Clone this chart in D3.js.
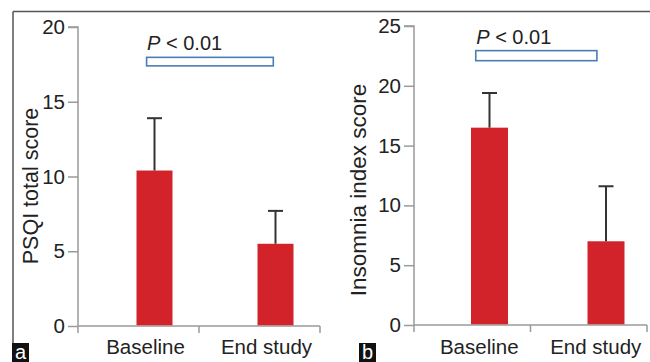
<!DOCTYPE html>
<html>
<head>
<meta charset="utf-8">
<script src="https://cdn.jsdelivr.net/npm/d3@7"></script>
<style>
  html, body { margin: 0; padding: 0; background: #fff; }
  svg { display: block; font-family: "Liberation Sans", Arial, sans-serif; }
</style>
</head>
<body>
<svg id="chart" width="650" height="362"></svg>
<script>
const categories = ['Baseline', 'End study'];

// panel a: PSQI total score
const psqiMeans = [10.4, 5.5];
const psqiUpper = [13.9, 7.7];
const psqiTicks = [0, 5, 10, 15, 20];

// panel b: insomnia index score
const isiMeans = [16.5, 7.0];
const isiUpper = [19.4, 11.6];
const isiTicks = [0, 5, 10, 15, 20, 25];

const pLabel = 'P';
const pRest = ' < 0.01';

const barColor = '#d2232a';
const axisColor = '#9a9a9a';
const errColor = '#333';
const sigColor = '#4a7db4';

const svg = d3.select('#chart');

// outer frame lines
svg.append('line')
  .attr('x1', 13).attr('x2', 650).attr('y1', 11.5).attr('y2', 11.5)
  .attr('stroke', '#555').attr('stroke-width', 1.5);
svg.append('line')
  .attr('x1', 13).attr('x2', 13).attr('y1', 11.5).attr('y2', 343)
  .attr('stroke', '#555').attr('stroke-width', 1.5);

function drawPanel(opt) {
  const g = svg.append('g');

  const y = d3.scaleLinear()
    .domain([0, opt.ticks[opt.ticks.length - 1]])
    .range([opt.y0, opt.yTop]);

  const x = d3.scaleBand()
    .domain(categories)
    .range([opt.xLeft, opt.xRight]);

  const bw = x.bandwidth();

  // y axis
  const yAxis = d3.axisLeft(y).tickValues(opt.ticks).tickSize(10).tickPadding(3);
  const ya = g.append('g')
    .attr('transform', `translate(${opt.xLeft},0)`)
    .call(yAxis);
  ya.select('.domain').attr('stroke', axisColor).attr('stroke-width', 1.5)
    .attr('d', `M-10,${opt.yTop}H0V${opt.y0}`);
  ya.selectAll('.tick line').attr('stroke', axisColor).attr('stroke-width', 1.5);
  ya.selectAll('.tick text')
    .attr('fill', '#222')
    .style('font-size', '20.5px')
    .style('font-family', '"Liberation Sans", Arial, sans-serif');

  // x axis: ticks at band boundaries
  const xa = g.append('g');
  xa.append('line')
    .attr('x1', opt.xLeft).attr('x2', opt.xRight)
    .attr('y1', opt.y0).attr('y2', opt.y0)
    .attr('stroke', axisColor).attr('stroke-width', 1.5);
  const bounds = categories.map(c => x(c)).concat([opt.xRight]);
  xa.selectAll('line.xt')
    .data(bounds)
    .enter()
    .append('line')
    .attr('class', 'xt')
    .attr('x1', d => d).attr('x2', d => d)
    .attr('y1', opt.y0).attr('y2', opt.y0 + 7)
    .attr('stroke', axisColor).attr('stroke-width', 1.5);
  xa.selectAll('text')
    .data(categories)
    .enter()
    .append('text')
    .attr('x', d => x(d) + bw / 2 + 7)
    .attr('y', 354)
    .attr('text-anchor', 'middle')
    .attr('fill', '#222')
    .style('font-size', '20.5px')
    .text(d => d);

  // bars
  const barW = opt.barW;
  g.selectAll('rect.bar')
    .data(opt.means)
    .enter()
    .append('rect')
    .attr('class', 'bar')
    .attr('x', (d, i) => x(categories[i]) + opt.barOffset - barW / 2)
    .attr('y', d => y(d))
    .attr('width', barW)
    .attr('height', d => opt.y0 - y(d) - 0.75)
    .attr('fill', barColor);

  // error bars (upper only)
  opt.upper.forEach((u, i) => {
    const cx = x(categories[i]) + opt.barOffset;
    g.append('line')
      .attr('x1', cx).attr('x2', cx)
      .attr('y1', y(opt.means[i])).attr('y2', y(u))
      .attr('stroke', errColor).attr('stroke-width', 2);
    g.append('line')
      .attr('x1', cx - 7.5).attr('x2', cx + 7.5)
      .attr('y1', y(u)).attr('y2', y(u))
      .attr('stroke', errColor).attr('stroke-width', 2);
  });

  // significance bracket
  const sx1 = x(categories[0]) + bw * opt.sigFrom;
  const sx2 = x(categories[1]) + bw * opt.sigTo;
  g.append('rect')
    .attr('x', sx1)
    .attr('y', y(opt.sigBox[1]))
    .attr('width', sx2 - sx1)
    .attr('height', y(opt.sigBox[0]) - y(opt.sigBox[1]))
    .attr('fill', '#fff')
    .attr('stroke', sigColor)
    .attr('stroke-width', 1.6);

  const pt = g.append('text')
    .attr('x', sx1 + 0.5)
    .attr('y', y(opt.sigBox[1]) - 7)
    .attr('fill', '#222')
    .style('font-size', '20px');
  pt.append('tspan').style('font-style', 'italic').text(pLabel);
  pt.append('tspan').text(pRest);

  // y axis title
  g.append('text')
    .attr('transform', `translate(${opt.titleX},${opt.titleY}) rotate(-90)`)
    .attr('text-anchor', 'middle')
    .attr('fill', '#222')
    .style('font-size', opt.titleSize)
    .text(opt.title);

  // panel letter
  g.append('rect')
    .attr('x', opt.letterX).attr('y', 343)
    .attr('width', 17).attr('height', 19)
    .attr('fill', '#111');
  g.append('text')
    .attr('x', opt.letterX + 8.5).attr('y', 359)
    .attr('text-anchor', 'middle')
    .attr('fill', '#fff')
    .style('font-size', '20px')
    .text(opt.letter);
}

drawPanel({
  means: psqiMeans, upper: psqiUpper, ticks: psqiTicks,
  y0: 326, yTop: 27, xLeft: 78, xRight: 320,
  barW: 36, barOffset: 76.5,
  sigBox: [17.4, 17.97], sigFrom: 0.567, sigTo: 0.614,
  title: 'PSQI total score', titleX: 38, titleY: 186, titleSize: '21.5px',
  letter: 'a', letterX: 12
});

drawPanel({
  means: isiMeans, upper: isiUpper, ticks: isiTicks,
  y0: 325, yTop: 26, xLeft: 414, xRight: 647,
  barW: 37, barOffset: 75.5,
  sigBox: [22.1, 22.94], sigFrom: 0.53, sigTo: 0.57,
  title: 'Insomnia index score', titleX: 366, titleY: 190, titleSize: '22.5px',
  letter: 'b', letterX: 359
});
</script>
</body>
</html>
